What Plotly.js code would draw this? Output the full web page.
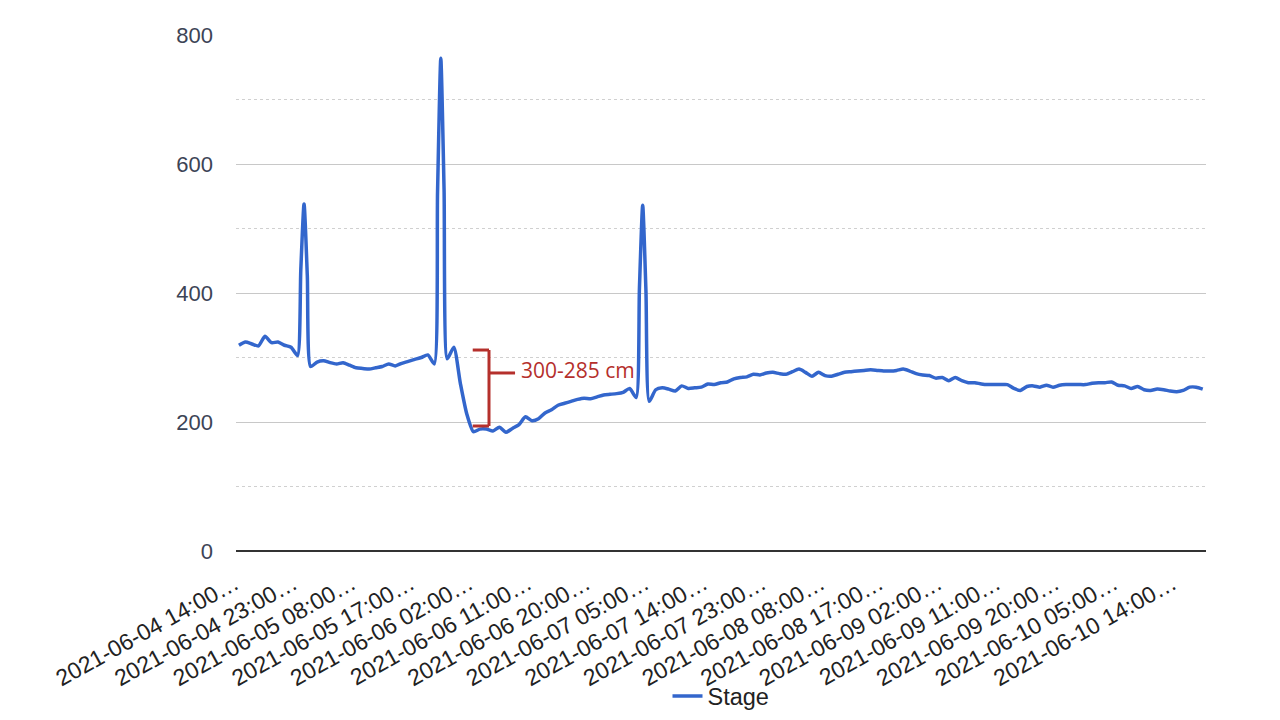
<!DOCTYPE html>
<html>
<head>
<meta charset="utf-8">
<script src="https://cdn.plot.ly/plotly-3.0.1.min.js"></script>
<style>html,body{margin:0;padding:0;background:#fff;}#chart{width:1280px;height:720px;}</style>
</head>
<body>
<div id="chart"></div>
<script>
// Hourly readings starting 2021-06-04 14:00
const seriesName = 'Stage';
const stage = [
  319, 324, 321, 318, 333, 323, 324, 319, 316, 303,
  538, 286, 293, 295, 292, 290, 292, 288, 284, 283,
  282, 284, 286, 290, 287, 291, 294, 297, 300, 304,
  290, 764, 298, 316, 260, 212, 185, 189, 189, 186,
  192, 184, 190, 196, 208, 202, 205, 214, 219, 226,
  229, 232, 235, 237, 236, 239, 242, 243, 244, 246,
  252, 238, 536, 232, 250, 253, 251, 248, 256, 252,
  253, 254, 259, 258, 261, 262, 267, 269, 270, 274,
  273, 276, 277, 275, 274, 278, 282, 277, 271, 277,
  272, 271, 274, 277, 278, 279, 280, 281, 280, 279,
  279, 280, 282, 279, 275, 273, 272, 268, 269, 264,
  269, 264, 261, 261, 259, 258, 258, 258, 258, 252,
  249, 255, 256, 254, 257, 254, 257, 258, 258, 258,
  258, 260, 261, 261, 262, 257, 256, 252, 255, 250,
  249, 251, 250, 248, 247, 249, 254, 254, 251
];
// Extra readings on the flanks of the three spikes (hour offset, value)
const spikeFlankHours  = [9.5, 10.5, 30.5, 31.5, 61.5, 62.5];
const spikeFlankValues = [436, 427, 556, 560, 407, 403];

const tickLabels = [
  '2021-06-04 14:00', '2021-06-04 23:00', '2021-06-05 08:00', '2021-06-05 17:00',
  '2021-06-06 02:00', '2021-06-06 11:00', '2021-06-06 20:00', '2021-06-07 05:00',
  '2021-06-07 14:00', '2021-06-07 23:00', '2021-06-08 08:00', '2021-06-08 17:00',
  '2021-06-09 02:00', '2021-06-09 11:00', '2021-06-09 20:00', '2021-06-10 05:00',
  '2021-06-10 14:00'
];
const annotationText = '300-285 cm';

function fmt(ms) {
  const d = new Date(ms);
  const p = n => String(n).padStart(2, '0');
  return d.getUTCFullYear() + '-' + p(d.getUTCMonth() + 1) + '-' + p(d.getUTCDate()) + ' ' +
         p(d.getUTCHours()) + ':' + p(d.getUTCMinutes());
}
const t0 = Date.UTC(2021, 5, 4, 14, 0);
const H = h => fmt(t0 + h * 3600e3);

const pts = stage.map((v, i) => [i, v])
  .concat(spikeFlankHours.map((h, i) => [h, spikeFlankValues[i]]))
  .sort((a, b) => a[0] - b[0]);
const xs = pts.map(p => H(p[0]));
const ys = pts.map(p => p[1]);

const red = '#b5302c';
const bracket = { color: red, width: 3 };

const trace = {
  x: xs, y: ys, type: 'scatter', mode: 'lines', name: seriesName,
  line: { color: '#3366cc', width: 3.5, shape: 'spline', smoothing: 0.6 }
};

const layout = {
  width: 1280, height: 720,
  margin: { l: 236, r: 74, t: 35, b: 169 },
  paper_bgcolor: '#fff', plot_bgcolor: '#fff',
  font: { family: 'Liberation Sans, Arial, sans-serif', size: 22, color: '#444' },
  showlegend: true,
  legend: { orientation: 'h', x: 0.5, xanchor: 'center', yref: 'container', y: 0.033, yanchor: 'middle',
            bgcolor: 'rgba(0,0,0,0)', font: { size: 23.5, color: '#222' } },
  xaxis: {
    type: 'date', automargin: false,
    range: [H(-0.45), H(148.5)],
    tickmode: 'array', tickvals: tickLabels, ticktext: tickLabels.map(s => s + '…'),
    tickangle: -29, showgrid: false, zeroline: false, showline: false,
    ticks: '', ticklabelstandoff: 14, ticklabelshift: -4,
    tickfont: { size: 23, color: '#222' }
  },
  yaxis: {
    automargin: false,
    range: [0, 800], dtick: 200, tick0: 0,
    showgrid: true, gridcolor: '#c8c8c8', gridwidth: 1,
    zeroline: true, zerolinecolor: '#333', zerolinewidth: 1.5,
    ticks: '', ticklabelstandoff: 22, tickfont: { size: 22, color: '#3c4456' },
    minor: { dtick: 100, showgrid: true, gridcolor: '#d0d0d0', griddash: 'dot', gridwidth: 1 }
  },
  shapes: [
    { type: 'line', xref: 'x', yref: 'y', x0: H(35.9), x1: H(38.4), y0: 311.6, y1: 311.6, line: bracket },
    { type: 'line', xref: 'x', yref: 'y', x0: H(38.4), x1: H(38.4), y0: 311.6, y1: 193.8, line: bracket },
    { type: 'line', xref: 'x', yref: 'y', x0: H(35.9), x1: H(38.4), y0: 193.8, y1: 193.8, line: bracket },
    { type: 'line', xref: 'x', yref: 'y', x0: H(38.4), x1: H(42.4), y0: 276, y1: 276, line: bracket }
  ],
  annotations: [
    { xref: 'x', yref: 'y', x: H(43.0), y: 281, text: annotationText, showarrow: false,
      xanchor: 'left', yanchor: 'middle',
      font: { family: 'Open Sans, Noto Sans, sans-serif', size: 21, color: red } }
  ]
};

Plotly.newPlot('chart', [trace], layout, { displayModeBar: false, staticPlot: true });
</script>
</body>
</html>
